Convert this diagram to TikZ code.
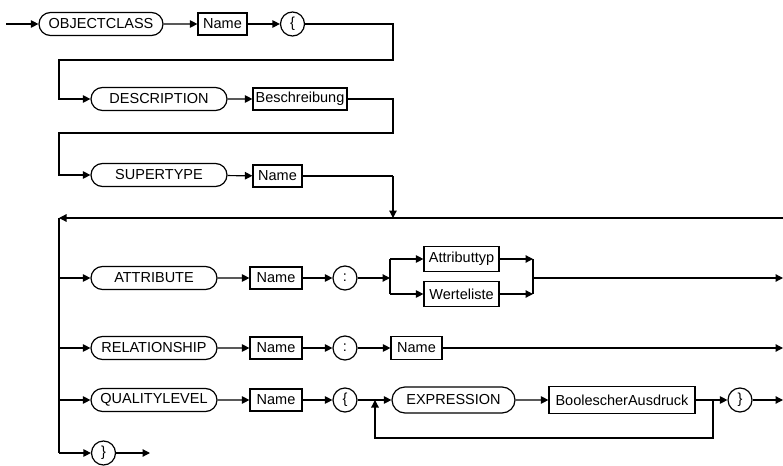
\documentclass[tikz,border=0pt]{standalone}
\usepackage{fontspec}
\setmainfont{Liberation Sans}
\usetikzlibrary{shapes.misc,arrows.meta}
\begin{document}
\begin{tikzpicture}[x=1pt,y=-1pt,
  every node/.style={font=\fontsize{14.5}{17}\selectfont, line width=1.2pt, inner sep=0pt},
  term/.style={rounded rectangle, draw, minimum height=23pt},
  nt/.style={rectangle, draw, minimum height=22pt},
  tc/.style={circle, draw, minimum size=24pt},
  conn/.style={line width=1.2pt},
  arr/.style={conn, -{Triangle[length=7.5pt,width=7.5pt]}}]
\path[use as bounding box] (0,0) rectangle (783,465);

% row 1
\coordinate (start) at (6,24);
\node[term, minimum width=124pt] (oc) at (101,24) {OBJECTCLASS};
\node[nt, minimum width=49pt] (n1) at (222.5,24) {Name};
\node[tc] (lb1) at (292.5,24) {\{};
\draw[arr] (start) -- (oc);
\draw[arr] (oc) -- (n1);
\draw[arr] (n1) -- (lb1);

% row 2
\node[term, minimum width=136pt] (desc) at (159,99) {DESCRIPTION};
\node[nt, minimum width=94pt] (besch) at (300,99) {Beschreibung};
\coordinate (r1) at (393,24);
\coordinate (l1) at (59,60);
\draw[arr] (lb1.east) -- (r1) |- (l1) |- (desc.west);
\draw[arr] (desc) -- (besch);

% row 3
\node[term, minimum width=136pt] (super) at (159,175) {SUPERTYPE};
\node[nt, minimum width=49pt] (n2) at (277.5,176) {Name};
\coordinate (r2) at (393,99);
\coordinate (l2) at (59,133);
\draw[arr] (besch.east) -- (r2) |- (l2) |- (super.west);
\draw[arr] (super) -- (n2);

% top loop line
\coordinate (r3) at (393,176);
\coordinate (r3b) at (393,218);
\coordinate (topR) at (783,218);
\coordinate (topL) at (59,218);
\coordinate (botL) at (59,453);
\draw[conn] (n2.east) -- (r3);
\draw[arr] (r3) -- (r3b);
\draw[arr] (topR) -- (topL);
\draw[conn] (topL) -- (botL);

% ATTRIBUTE row
\node[term, minimum width=126pt] (attr) at (154,278) {ATTRIBUTE};
\node[nt, minimum width=52pt] (n3) at (276,278) {Name};
\node[tc] (col1) at (345,278) {:};
\node[nt, minimum width=75pt, minimum height=25pt] (atyp) at (461.5,259) {Attributtyp};
\node[nt, minimum width=75pt, minimum height=25pt] (wl) at (461.5,294) {Werteliste};
\coordinate (bL) at (390,278);
\coordinate (bLu) at (390,259);
\coordinate (bLd) at (390,294);
\coordinate (bRu) at (533,259);
\coordinate (bRd) at (533,294);
\coordinate (bR) at (533,278);
\coordinate (eA) at (783,278);
\draw[arr] (topL |- attr) -- (attr);
\draw[arr] (attr) -- (n3);
\draw[arr] (n3) -- (col1);
\draw[arr] (col1) -- (bL);
\draw[conn] (bLu) -- (bLd);
\draw[arr] (bLu) -- (atyp);
\draw[arr] (bLd) -- (wl);
\draw[arr] (atyp) -- (bRu);
\draw[arr] (wl) -- (bRd);
\draw[conn] (bRu) -- (bRd);
\draw[arr] (bR) -- (eA);

% RELATIONSHIP row
\node[term, minimum width=126pt] (rel) at (154,348) {RELATIONSHIP};
\node[nt, minimum width=52pt] (n4) at (276,348) {Name};
\node[tc] (col2) at (345,348) {:};
\node[nt, minimum width=51pt, minimum height=23pt] (n6) at (416.5,348) {Name};
\coordinate (eR) at (783,348);
\draw[arr] (topL |- rel) -- (rel);
\draw[arr] (rel) -- (n4);
\draw[arr] (n4) -- (col2);
\draw[arr] (col2) -- (n6);
\draw[arr] (n6) -- (eR);

% QUALITYLEVEL row
\node[term, minimum width=126pt] (ql) at (154,400) {QUALITYLEVEL};
\node[nt, minimum width=52pt] (n5) at (276,400) {Name};
\node[tc] (lb2) at (345,400) {\{};
\node[term, minimum width=123pt, minimum height=26pt] (expr) at (453.5,400) {EXPRESSION};
\node[nt, minimum width=146pt, minimum height=27pt] (bool) at (622,400) {BoolescherAusdruck};
\node[tc] (rb1) at (740,400) {\}};
\coordinate (jL) at (375,400);
\coordinate (jR) at (713,400);
\coordinate (jRb) at (713,438);
\coordinate (eQ) at (783,400);
\draw[arr] (topL |- ql) -- (ql);
\draw[arr] (ql) -- (n5);
\draw[arr] (n5) -- (lb2);
\draw[arr] (lb2) -- (expr);
\draw[arr] (expr) -- (bool);
\draw[arr] (bool) -- (rb1);
\draw[arr] (jR) -- (jRb) -| (jL);
\draw[arr] (rb1) -- (eQ);

% closing brace
\node[tc] (rb2) at (103.5,453) {\}};
\coordinate (eE) at (150,453);
\draw[arr] (botL) -- (rb2);
\draw[arr] (rb2) -- (eE);
\end{tikzpicture}
\end{document}
